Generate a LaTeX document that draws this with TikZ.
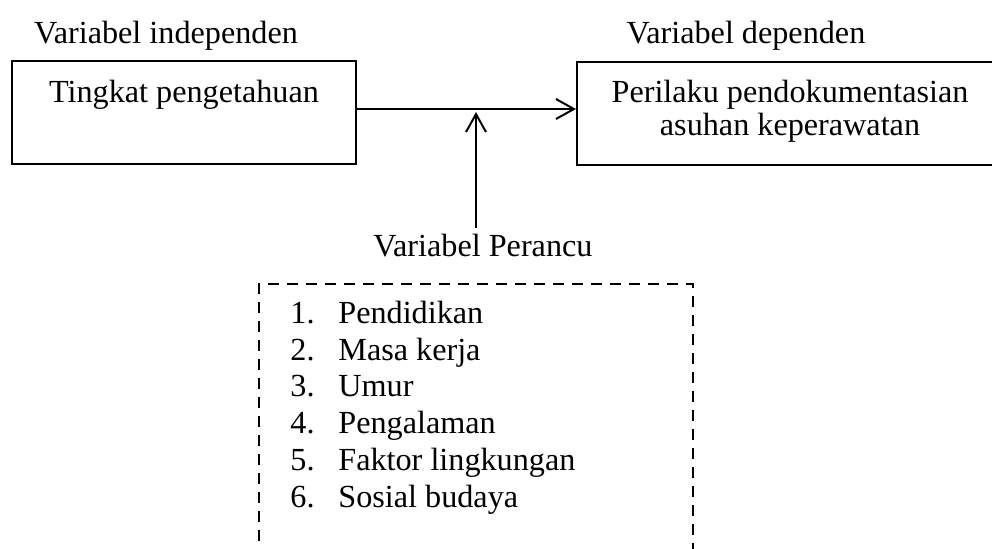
\documentclass[tikz,border=0pt]{standalone}
\usepackage{fontspec}
\setmainfont{Liberation Serif}
\usetikzlibrary{arrows.meta}
\begin{document}
\begin{tikzpicture}[x=0.5pt,y=-0.5pt,
  txt/.style={inner sep=0pt, anchor=base, font=\fontsize{16.1}{18.3}\selectfont},
  itm/.style={inner sep=0pt, anchor=base west, font=\fontsize{16.1}{18.3}\selectfont},
  box/.style={draw, inner sep=0pt, minimum height=51.5pt},
  conn/.style={line width=1pt, -{Straight Barb[length=9pt,width=10pt,line width=1pt]}},
  dashbox/.style={line width=1pt, dash pattern=on 5.5pt off 4pt},
]
\useasboundingbox (0,0) rectangle (992,548);
% labels
\node[txt] (lind) at (166,43) {Variabel independen};
\node[txt] (ldep) at (746,43) {Variabel dependen};
% boxes
\node[box, line width=0.6pt, minimum width=172pt] (indep) at (184,112.5) {};
\node[txt] (tind) at (184,102) {Tingkat pengetahuan};
\node[box, line width=1pt, minimum width=213.5pt] (dep) at (790.5,113.5) {};
\node[txt] (tdep1) at (790,102) {Perilaku pendokumentasian};
\node[txt] (tdep2) at (790,135) {asuhan keperawatan};
% arrows
\coordinate (ay) at (0,109);
\draw[conn] (indep.east |- ay) -- (dep.west |- ay);
\coordinate (vs) at (476,228);
\coordinate (vj) at (476,112);
\draw[conn] (vs) -- (vj);
\node[txt] (per) at (483,256) {Variabel Perancu};
% dashed box
\draw[dashbox] (259,560) -- (259,284) -- (693,284) -- (693,560);
\node[itm] (i1) at (290,323) {\makebox[24pt][l]{1.}Pendidikan};
\node[itm] (i2) at (290,360) {\makebox[24pt][l]{2.}Masa kerja};
\node[itm] (i3) at (290,396) {\makebox[24pt][l]{3.}Umur};
\node[itm] (i4) at (290,433) {\makebox[24pt][l]{4.}Pengalaman};
\node[itm] (i5) at (290,470) {\makebox[24pt][l]{5.}Faktor lingkungan};
\node[itm] (i6) at (290,507) {\makebox[24pt][l]{6.}Sosial budaya};
\end{tikzpicture}
\end{document}
